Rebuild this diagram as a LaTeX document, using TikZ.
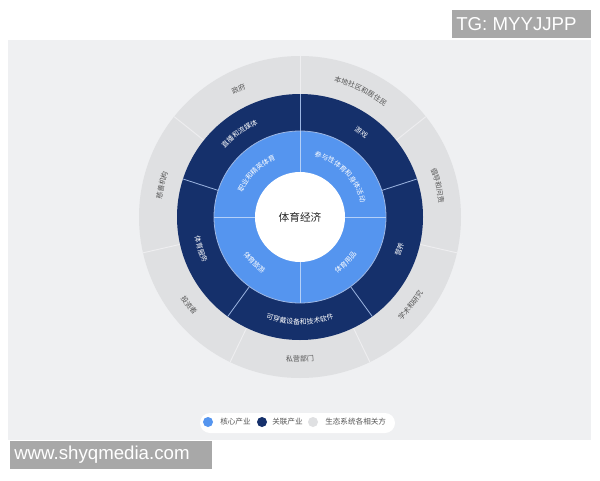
\documentclass[tikz,border=0pt]{standalone}
\usepackage{fontspec}
\setmainfont{Liberation Sans}
\newfontfamily\cjk{Noto Sans CJK SC}
\usetikzlibrary{decorations.text}
\definecolor{panelbg}{HTML}{EFF0F2}
\definecolor{outergray}{HTML}{DFE0E2}
\definecolor{navy}{HTML}{15306B}
\definecolor{lightblue}{HTML}{5595EF}
\definecolor{wmgray}{HTML}{A8A8A8}
\definecolor{labelgray}{HTML}{555555}
\definecolor{navyline}{HTML}{9DB6E2}
\definecolor{blueline}{HTML}{B4D0F8}
\definecolor{grayline}{HTML}{EEEEF0}
\newcommand\lblW{\cjk\fontsize{5.2}{6}\selectfont\color{white}}
\newcommand\lblG{\cjk\fontsize{5.3}{6}\selectfont\color{labelgray}}
% #1 angle, #2 radius, #3 half span, #4 format, #5 text
\newcommand\arclabelT[5]{%
  \path[decorate,decoration={text along path,text align=center,text={|#4|#5}}]
    ({#1+#3}:{#2-2.7}) arc[start angle={#1+#3}, end angle={#1-#3}, radius={#2-2.7}];}
\newcommand\arclabelB[5]{%
  \path[decorate,decoration={text along path,text align=center,text={|#4|#5}}]
    ({#1-#3}:{#2+2.7}) arc[start angle={#1-#3}, end angle={#1+#3}, radius={#2+2.7}];}
\tikzset{
  wmtext/.style={text=white, font=\fontsize{14}{16}\selectfont, inner sep=0pt, anchor=west},
  legdot/.style={circle, inner sep=0pt, minimum size=7.5pt},
  legtext/.style={text=labelgray, font=\cjk\fontsize{5.7}{7}\selectfont, inner sep=0pt, anchor=west},
}
\begin{document}
\begin{tikzpicture}[x=0.75pt,y=0.75pt]
\useasboundingbox (0,0) rectangle (600,480);
\fill[white] (0,0) rectangle (600,480);
\fill[panelbg] (8,40) rectangle (591,440);
% watermarks
\fill[wmgray] (452,442) rectangle (591,470);
\node[wmtext] (tg) at (456,456) {TG: MYYJJPP};
\fill[wmgray] (10,11) rectangle (212,39);
\node[wmtext] (www) at (14,25) {www.shyqmedia.com};
% rings
\begin{scope}[shift={(300,263)}]
\fill[outergray] (0,0) circle[radius=161];
\foreach \a in {90,38.571,-12.857,-64.286,-115.714,-167.143,141.429}
  \draw[grayline, line width=0.7pt] (\a:123) -- (\a:161);
\fill[navy] (0,0) circle[radius=123];
\foreach \a in {90,18,-54,-126,162}
  \draw[navyline, line width=0.6pt] (\a:86) -- (\a:123);
\fill[lightblue] (0,0) circle[radius=86];
\draw[navyline, line width=0.6pt] (0,0) circle[radius=86];
\foreach \a in {0,90,180,270}
  \draw[blueline, line width=0.6pt] (\a:45) -- (\a:86);
\fill[white] (0,0) circle[radius=45];
% inner ring labels
\arclabelT{135}{65}{29}{\lblW}{职业和精英体育}
\arclabelT{45}{65}{39}{\lblW}{参与性体育和身体活动}
\arclabelB{225}{65}{18}{\lblW}{体育旅游}
\arclabelB{315}{65}{18}{\lblW}{体育用品}
% middle ring labels
\arclabelT{126}{104.5}{16}{\lblW}{直播和流媒体}
\arclabelT{54}{104.5}{8}{\lblW}{游戏}
\arclabelB{342}{104.5}{8}{\lblW}{营养}
\arclabelB{270}{104.5}{23}{\lblW}{可穿戴设备和技术软件}
\arclabelB{198}{104.5}{12}{\lblW}{体育服务}
% outer ring labels
\arclabelT{115.714}{142}{6.5}{\lblG}{政府}
\arclabelT{64.286}{142}{15}{\lblG}{本地社区和居住民}
\arclabelT{12.857}{142}{10.5}{\lblG}{倡导和问责}
\arclabelB{321.429}{142}{10.5}{\lblG}{学术和研究}
\arclabelB{270}{142}{9}{\lblG}{私营部门}
\arclabelB{218.571}{142}{7.5}{\lblG}{投资者}
\arclabelT{167.143}{142}{9}{\lblG}{慈善机构}
\end{scope}
\node[text=black!85, font=\cjk\fontsize{8}{9}\selectfont, inner sep=0pt] (centre) at (300,263) {体育经济};
% legend
\fill[white, rounded corners=7.5pt] (200,47) rectangle (395,67);
\node[legdot, fill=lightblue] (d1) at (208,58) {};
\node[legtext] (t1) at (220,58) {核心产业};
\node[legdot, fill=navy] (d2) at (262,58) {};
\node[legtext] (t2) at (272,58) {关联产业};
\node[legdot, fill=outergray] (d3) at (313,58) {};
\node[legtext] (t3) at (325,58) {生态系统各相关方};
\end{tikzpicture}
\end{document}
